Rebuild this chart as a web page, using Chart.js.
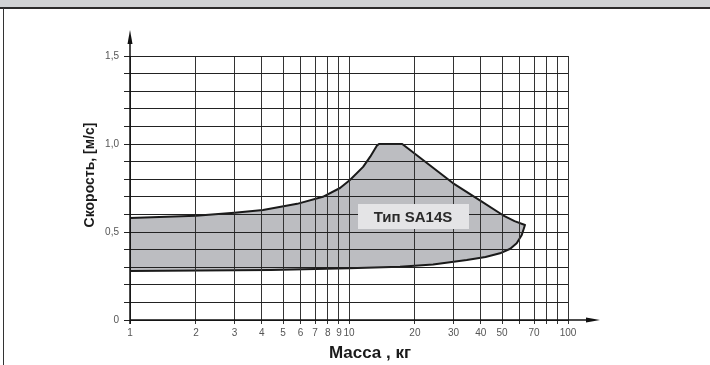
<!DOCTYPE html>
<html>
<head>
<meta charset="utf-8">
<script src="https://cdn.jsdelivr.net/npm/chart.js@4.4.1/dist/chart.umd.min.js"></script>
<style>
  html, body { margin: 0; padding: 0; background: #fff; }
  #wrap { position: relative; width: 710px; height: 365px; overflow: hidden; }
  #band { position: absolute; left: 0; top: 0; width: 710px; height: 7px; background: #d0d2d4; border-bottom: 2px solid #2b2b2b; }
  #edge { position: absolute; left: 3px; top: 8px; bottom: 0; border-left: 1px solid #333; }
  #chartCanva { position: absolute; left: 0; top: 0; }
</style>
</head>
<body>
<div id="wrap">
  <div id="band"></div>
  <div id="edge"></div>
  <canvas id="chartCanva" width="710" height="365"></canvas>
</div>
<script>
// upper boundary of the working range (mass in kg, speed in m/s)
var massUpper  = [1, 2, 3, 4.05, 5.8, 7.6, 9.1, 10.1, 11.6, 12.5, 13.4, 13.7, 17.5, 29.8, 39.6, 50.5, 57, 63.6];
var speedUpper = [0.58, 0.593, 0.61, 0.625, 0.66, 0.70, 0.75, 0.795, 0.87, 0.928, 0.99, 1.0, 1.0, 0.778, 0.68, 0.595, 0.562, 0.54];
// lower boundary
var massLower  = [1, 4.4, 10, 17.1, 24.2, 34.5, 42, 48.9, 54.5, 58.3, 61.5];
var speedLower = [0.278, 0.284, 0.294, 0.303, 0.316, 0.341, 0.358, 0.379, 0.405, 0.436, 0.483];

var xGridValues = [1, 2, 3, 4, 5, 6, 7, 8, 9, 10, 20, 30, 40, 50, 60, 70, 80, 90, 100];
var xTickLabels = [1, 2, 3, 4, 5, 6, 7, 8, 9, 10, 20, 30, 40, 50, 70, 100];
var yGridValues = [0, 0.1, 0.2, 0.3, 0.4, 0.5, 0.6, 0.7, 0.8, 0.9, 1.0, 1.1, 1.2, 1.3, 1.4, 1.5];
var yTickValues = [0, 0.5, 1.0, 1.5];
var yTickLabels = ['0', '0,5', '1,0', '1,5'];

var seriesName = 'Тип SA14S';
var xTitle = 'Масса , кг';
var yTitle = 'Скорость, [м/с]';

var FONT = '"Liberation Sans", Arial, Helvetica, sans-serif';

// closed outline: along the top, back along the bottom, then up the left edge
var outline = [];
for (var i = 0; i < massUpper.length; i++) outline.push({x: massUpper[i], y: speedUpper[i]});
for (var j = massLower.length - 1; j >= 0; j--) outline.push({x: massLower[j], y: speedLower[j]});
outline.push({x: massUpper[0], y: speedUpper[0]});

var decor = {
  id: 'decor',
  afterDraw: function(chart) {
    var ctx = chart.ctx, x = chart.scales.x, y = chart.scales.y;
    var x0 = x.getPixelForValue(1), y0 = y.getPixelForValue(0);
    ctx.save();
    ctx.strokeStyle = '#111';
    ctx.fillStyle = '#111';
    ctx.lineWidth = 1.5;
    // y axis with arrow
    ctx.beginPath(); ctx.moveTo(x0, y0 + 4); ctx.lineTo(x0, 40); ctx.stroke();
    ctx.beginPath(); ctx.moveTo(x0, 30); ctx.lineTo(x0 - 2.5, 44); ctx.lineTo(x0 + 2.5, 44); ctx.closePath(); ctx.fill();
    // x axis with arrow
    ctx.beginPath(); ctx.moveTo(x0, y0); ctx.lineTo(590, y0); ctx.stroke();
    ctx.beginPath(); ctx.moveTo(600, y0); ctx.lineTo(586, y0 - 2.5); ctx.lineTo(586, y0 + 2.5); ctx.closePath(); ctx.fill();

    // series label box
    var bx = x.getPixelForValue(19.6), by = y.getPixelForValue(0.588);
    ctx.fillStyle = '#e4e4e6';
    ctx.fillRect(bx - 55, by - 12.5, 111, 25);
    ctx.fillStyle = '#2a2a2a';
    ctx.font = 'bold 15px ' + FONT;
    ctx.textAlign = 'center';
    ctx.textBaseline = 'middle';
    ctx.fillText(seriesName, bx, by + 1);

    // axis titles
    ctx.fillStyle = '#1a1a1a';
    ctx.font = 'bold 17px ' + FONT;
    ctx.fillText(xTitle, 370, 353);
    ctx.translate(90, 175);
    ctx.rotate(-Math.PI / 2);
    ctx.font = 'bold 14px ' + FONT;
    ctx.fillText(yTitle, 0, 0);
    ctx.restore();
  }
};

var config = {
  type: 'scatter',
  data: {
    datasets: [{
      label: seriesName,
      data: outline,
      showLine: true,
      fill: 'shape',
      backgroundColor: '#bcbdc1',
      borderColor: '#1a1a1a',
      borderWidth: 2,
      borderJoinStyle: 'round',
      pointRadius: 0,
      tension: 0
    }]
  },
  options: {
    responsive: false,
    animation: false,
    layout: { padding: { left: 0, top: 56, right: 142, bottom: 0 } },
    plugins: {
      legend: { display: false },
      tooltip: { enabled: false },
      title: { display: false }
    },
    scales: {
      x: {
        type: 'logarithmic',
        min: 1,
        max: 100,
        afterBuildTicks: function(s) { s.ticks = xGridValues.map(function(v) { return {value: v}; }); },
        afterFit: function(s) { s.height = 45; },
        ticks: {
          autoSkip: false,
          maxRotation: 0,
          padding: 3,
          color: '#555',
          font: { family: FONT, size: 10 },
          callback: function(v) { return xTickLabels.indexOf(v) >= 0 ? String(v) : ''; }
        },
        grid: { color: '#333', lineWidth: 1, tickLength: 4, z: 1 },
        border: { display: false }
      },
      y: {
        min: 0,
        max: 1.5,
        afterBuildTicks: function(s) { s.ticks = yGridValues.map(function(v) { return {value: v}; }); },
        afterFit: function(s) { s.width = 130; },
        ticks: {
          padding: 5,
          color: '#555',
          font: { family: FONT, size: 10 },
          callback: function(v) {
            for (var k = 0; k < yTickValues.length; k++) {
              if (Math.abs(yTickValues[k] - v) < 1e-6) return yTickLabels[k];
            }
            return '';
          }
        },
        grid: { color: '#222', lineWidth: 1, tickLength: 6, z: 1 },
        border: { display: false }
      }
    }
  },
  plugins: [decor]
};

var myChart = new Chart(document.getElementById('chartCanva'), config);
</script>
</body>
</html>
